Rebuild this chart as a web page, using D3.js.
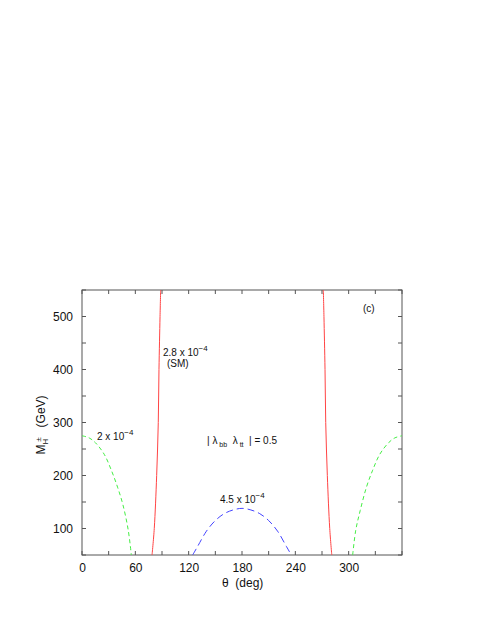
<!DOCTYPE html>
<meta charset="utf-8">
<style>
body { margin: 0; background: #fff; }
text { font-family: "Liberation Sans", Arial, sans-serif; fill: #111; white-space: pre; }
.axis path, .axis line { stroke: #555; }
.tick text { font-size: 12px; }
.line { fill: none; stroke-width: 1px; }
.ann { font-size: 10px; }
</style>
<body>
<script src="https://d3js.org/d3.v7.min.js"></script>
<script>

// data (theta in deg, mass in GeV)
var greenLeftT  = [0, 8, 15, 25, 33, 40, 46, 52, 55.5];
var greenLeftM  = [275, 271, 262, 240, 210, 178, 145, 97, 50];
var greenRightT = [304.5, 308, 313, 320, 327, 335, 345, 352, 360];
var greenRightM = [50, 97, 134, 178, 210, 240, 262, 271, 275];
var redLeftT  = [78.8, 81.3, 84, 85.8, 86.6, 87.8, 88.5];
var redLeftM  = [50, 100, 200, 300, 400, 500, 550];
var redRightT = [281, 278.7, 276, 274.2, 273.4, 272.2, 271.5];
var redRightM = [50, 100, 200, 300, 400, 500, 550];
var blueT = [124.5, 130, 140, 150, 160, 170, 180, 190, 200, 210, 220, 230, 235.5];
var blueM = [50, 66, 95, 115, 128, 135, 138, 135, 128, 115, 95, 66, 50];

var xTicks = [0, 60, 120, 180, 240, 300];
var xMinor = d3.range(0, 361, 30);
var yTicks = [100, 200, 300, 400, 500];
var yMinor = d3.range(50, 551, 50);

var margin = {top: 290, left: 82},
    width = 320,
    height = 265;

var x = d3.scaleLinear().domain([0, 360]).range([0, width]);
var y = d3.scaleLinear().domain([50, 550]).range([height, 0]);

var svg = d3.select("body").append("svg")
    .attr("width", 485)
    .attr("height", 627);

var g = svg.append("g")
    .attr("transform", "translate(" + margin.left + "," + margin.top + ")");

g.append("defs").append("clipPath")
    .attr("id", "clip")
  .append("rect")
    .attr("width", width)
    .attr("height", height);

// frame
g.append("rect")
    .attr("width", width)
    .attr("height", height)
    .style("fill", "none")
    .style("stroke", "#555");

// minor ticks on all four sides
var tl = 4;
g.selectAll(".xm").data(xMinor).enter().append("line")
    .attr("x1", d => x(d)).attr("x2", d => x(d))
    .attr("y1", height).attr("y2", height - tl).style("stroke", "#555");
g.selectAll(".xmt").data(xMinor).enter().append("line")
    .attr("x1", d => x(d)).attr("x2", d => x(d))
    .attr("y1", 0).attr("y2", tl).style("stroke", "#555");
g.selectAll(".ym").data(yMinor).enter().append("line")
    .attr("y1", d => y(d)).attr("y2", d => y(d))
    .attr("x1", 0).attr("x2", tl).style("stroke", "#555");
g.selectAll(".ymr").data(yMinor).enter().append("line")
    .attr("y1", d => y(d)).attr("y2", d => y(d))
    .attr("x1", width).attr("x2", width - tl).style("stroke", "#555");

g.append("g")
    .attr("class", "axis")
    .attr("transform", "translate(0," + height + ")")
    .call(d3.axisBottom(x).tickValues(xTicks).tickSize(0).tickPadding(8))
    .call(a => a.select(".domain").remove());

g.append("g")
    .attr("class", "axis")
    .call(d3.axisLeft(y).tickValues(yTicks).tickSize(0).tickPadding(9))
    .call(a => a.select(".domain").remove());

var line = d3.line()
    .x(d => x(d[0]))
    .y(d => y(d[1]))
    .curve(d3.curveCatmullRom);

function draw(ts, ms, color, dash) {
  g.append("path")
      .datum(d3.zip(ts, ms))
      .attr("class", "line")
      .attr("clip-path", "url(#clip)")
      .style("stroke", color)
      .style("stroke-dasharray", dash)
      .attr("d", line);
}

draw(greenLeftT, greenLeftM, "#44ee44", "4,3");
draw(greenRightT, greenRightM, "#44ee44", "4,3");
draw(redLeftT, redLeftM, "#ff4444", null);
draw(redRightT, redRightM, "#ff4444", null);
draw(blueT, blueM, "#4444ff", "7,4");

// annotations
function sci(xp, yp, mant) {
  var t = svg.append("text").attr("class", "ann").attr("x", xp).attr("y", yp);
  t.append("tspan").text(mant + " x 10");
  t.append("tspan").attr("dy", -5).style("font-size", "8px").text("\u22124");
}
sci(163, 356, "2.8");
svg.append("text").attr("class", "ann").attr("x", 167).attr("y", 367).text("(SM)");
sci(97, 440, "2");
sci(220, 503, "4.5");

var lam = svg.append("text").attr("class", "ann").attr("x", 207).attr("y", 444);
lam.append("tspan").text("| \u03bb");
lam.append("tspan").attr("dy", 3).style("font-size", "7px").text(" bb");
lam.append("tspan").attr("dy", -3).text("  \u03bb");
lam.append("tspan").attr("dy", 3).style("font-size", "7px").text(" tt");
lam.append("tspan").attr("dy", -3).text("  | = 0.5");

svg.append("text").attr("class", "ann").attr("x", 363).attr("y", 312).text("(c)");

// axis titles
svg.append("text")
    .attr("x", 222).attr("y", 587)
    .style("font-size", "12px")
    .text("\u03b8  (deg)");

var yl = svg.append("text")
    .attr("transform", "translate(45,425) rotate(-90)")
    .attr("text-anchor", "middle")
    .style("font-size", "12px");
yl.append("tspan").text("M");
yl.append("tspan").attr("dy", 3).style("font-size", "8px").text("H");
yl.append("tspan").attr("dy", -7).attr("dx", -3).style("font-size", "8px").text("\u00b1");
yl.append("tspan").attr("dy", 4).text("   (GeV)");

</script>
</body>
